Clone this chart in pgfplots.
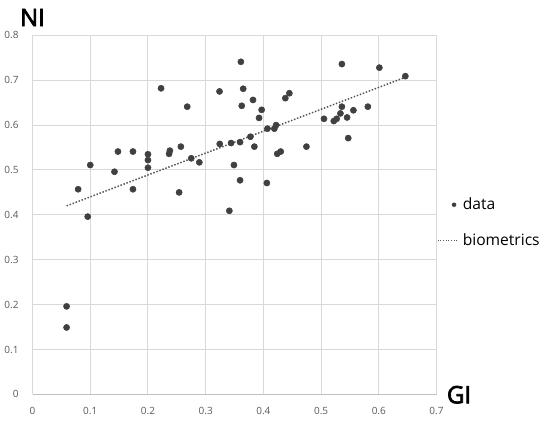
\documentclass[border=0pt]{standalone}
\usepackage{pgfplots}
\pgfplotsset{compat=1.18}
\usepackage{fontspec}
\setmainfont{Open Sans}
\newfontfamily\labelfont{Open Sans}[FakeBold=3]

\definecolor{dotcol}{HTML}{404040}
\definecolor{gridcol}{HTML}{D9D9D9}
\definecolor{tickcol}{HTML}{595959}

\pgfplotsset{
    markleg/.style={legend image code/.code={
        \node[inner sep=0pt, minimum size=0pt] at (0pt,0pt) {};
        \node[inner sep=0pt, minimum size=0pt] at (15pt,0pt) {};
        \node[circle, fill=dotcol, draw=none, inner sep=0pt, minimum size=3.4pt] at (10.5pt,0pt) {};}},
    lineleg/.style={legend image code/.code={
        \draw[##1, line width=0.9pt, dash pattern=on 0.9pt off 1.1pt] (0pt,0pt) -- (15pt,0pt);}},
}

\pgfplotstableread{
x y
0.059 0.196
0.059 0.149
0.079 0.457
0.0956 0.396
0.100 0.511
0.142 0.496
0.148 0.541
0.174 0.541
0.174 0.457
0.200 0.535
0.200 0.522
0.200 0.505
0.2227 0.682
0.2366 0.536
0.238 0.543
0.254 0.450
0.257 0.552
0.268 0.641
0.275 0.526
0.289 0.517
0.324 0.675
0.3244 0.558
0.341 0.409
0.344 0.560
0.349 0.511
0.3596 0.562
0.3596 0.477
0.361 0.741
0.3625 0.643
0.365 0.681
0.3775 0.574
0.382 0.656
0.3844 0.552
0.3925 0.616
0.397 0.634
0.406 0.471
0.407 0.592
0.419 0.592
0.422 0.600
0.424 0.536
0.430 0.541
0.438 0.660
0.445 0.671
0.4746 0.552
0.505 0.614
0.522 0.609
0.527 0.614
0.5335 0.626
0.536 0.641
0.536 0.736
0.545 0.617
0.547 0.571
0.556 0.633
0.581 0.641
0.601 0.728
0.646 0.709
}\gidata

\begin{document}
\begin{tikzpicture}
\useasboundingbox (0,0) rectangle (412.5pt,317.25pt);
\begin{axis}[
    at={(24.4pt,21.5pt)}, anchor=south west,
    scale only axis,
    width=303pt, height=269.25pt,
    xmin=0, xmax=0.7, ymin=0, ymax=0.8,
    xtick={0,0.1,...,0.7}, ytick={0,0.1,...,0.8},
    axis lines*=left,
    x axis line style={-, draw=black!25, line width=0.8pt},
    y axis line style={-, draw=gridcol, line width=0.75pt},
    grid=major,
    major grid style={draw=gridcol, line width=0.75pt},
    major tick length=0pt,
    tick style={draw=none},
    /pgf/number format/assume math mode=true,
    /pgf/number format/fixed,
    ticklabel style={font=\fontsize{7.5}{9}\selectfont, text=tickcol},
    xticklabel style={yshift=-6pt},
    yticklabel style={xshift=-7pt},
    xlabel={GI}, ylabel={NI},
    every axis x label/.style={at={(rel axis cs:1.0557,-0.025)}, anchor=base,
        font=\labelfont\fontsize{18}{20}\selectfont},
    every axis y label/.style={at={(rel axis cs:0,1.026)}, anchor=base,
        font=\labelfont\fontsize{18}{20}\selectfont},
    legend cell align=left,
    legend style={draw=none, fill=none, at={(1.0003,0.4786)}, anchor=west,
        inner sep=0pt, row sep=12.25pt,
        /tikz/every odd column/.append style={column sep=1.5pt},
        font=\fontsize{11.7}{13}\selectfont},
]
\addplot[only marks, mark=*, mark size=2.3pt, color=dotcol, markleg]
    table[x=x, y=y] {\gidata};
\addlegendentry{data}
\addplot[no marks, color=dotcol!90, line width=1.1pt,
    dash pattern=on 1.1pt off 1.3pt, lineleg]
    coordinates {(0.059,0.420) (0.645,0.706)};
\addlegendentry{biometrics}
\end{axis}
\end{tikzpicture}
\end{document}
